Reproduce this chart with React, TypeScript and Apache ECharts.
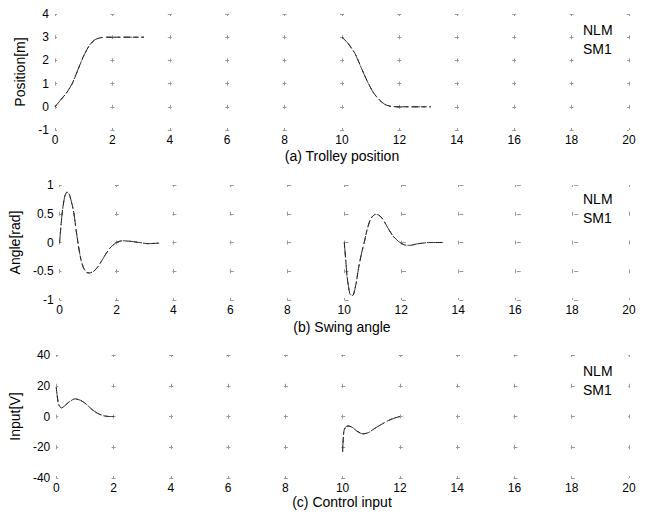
import React, { useEffect, useRef } from "react";
import * as echarts from "echarts";

// (a) Trolley position [m]
const posT1 = [0, 0.2, 0.4, 0.6, 0.8, 1.0, 1.2, 1.4, 1.6, 1.8, 3.1];
const posV1 = [0, 0.3, 0.6, 1.0, 1.6, 2.2, 2.65, 2.9, 2.98, 3.0, 3.0];
const posT2 = [10, 10.2, 10.45, 10.7, 10.9, 11.1, 11.3, 11.5, 11.7, 12, 13.1];
const posV2 = [3.0, 2.75, 2.3, 1.6, 1.05, 0.6, 0.3, 0.1, 0.02, 0, 0];

// (b) Swing angle [rad]
const angT1 = [0, 0.05, 0.1, 0.18, 0.26, 0.34, 0.42, 0.5, 0.58, 0.66, 0.75, 0.85, 0.95, 1.05, 1.2, 1.35, 1.5, 1.65, 1.8, 2.0, 2.2, 2.5, 2.8, 3.1, 3.5];
const angV1 = [0, 0.3, 0.55, 0.8, 0.88, 0.84, 0.7, 0.52, 0.22, -0.05, -0.3, -0.45, -0.52, -0.53, -0.5, -0.42, -0.3, -0.18, -0.08, 0.0, 0.03, 0.02, 0, -0.02, -0.01];
const angT2 = [10, 10.05, 10.1, 10.2, 10.3, 10.4, 10.5, 10.6, 10.7, 10.8, 10.9, 11.0, 11.1, 11.2, 11.35, 11.5, 11.7, 11.9, 12.1, 12.3, 12.6, 13.0, 13.5];
const angV2 = [0, -0.3, -0.6, -0.9, -0.92, -0.75, -0.45, -0.2, 0.0, 0.22, 0.38, 0.46, 0.49, 0.48, 0.41, 0.28, 0.12, 0.02, -0.04, -0.05, -0.02, 0, 0];

// (c) Control input [V]
const inT1 = [0, 0.03, 0.08, 0.18, 0.3, 0.45, 0.65, 0.85, 1.05, 1.25, 1.45, 1.65, 1.85, 2.0];
const inV1 = [19, 14, 8, 5.5, 7, 9.5, 11.5, 10.5, 8, 4.5, 2, 0.5, 0, 0];
const inT2 = [10, 10.02, 10.05, 10.12, 10.22, 10.35, 10.5, 10.7, 10.9, 11.1, 11.35, 11.6, 11.8, 12.0];
const inV2 = [-23, -15, -9, -6.5, -6.2, -7.2, -9.5, -11.3, -10.5, -8, -5.2, -2.6, -1.1, 0];

const seriesNames = ["NLM", "SM1"];
const titles = ["(a) Trolley position", "(b) Swing angle", "(c) Control input"];
const yNames = ["Position[m]", "Angle[rad]", "Input[V]"];
const yMins = [-1, -1, -40];
const yMaxs = [4, 1, 40];
const yIntervals = [1, 0.5, 20];
const xMin = 0;
const xMax = 20;
const xInterval = 2;

function join(t1: number[], v1: number[], t2: number[], v2: number[]) {
  const a = t1.map((t, i) => [t, v1[i]]);
  const b = t2.map((t, i) => [t, v2[i]]);
  return [...a, [5, "-"], ...b];
}

const panelData = [
  join(posT1, posV1, posT2, posV2),
  join(angT1, angV1, angT2, angV2),
  join(inT1, inV1, inT2, inV2),
];

export default function App() {
  const ref = useRef<HTMLDivElement>(null);
  useEffect(() => {
    if (!ref.current) return;
    const chart = echarts.init(ref.current, undefined, { renderer: "svg" });
    const font = "Liberation Sans, Arial, sans-serif";
    const gridLeft = 55;
    const gridRight = 22;
    const gridWidth = 651 - gridLeft - gridRight;
    const grids = [
      { top: 14, height: 116 },
      { top: 185, height: 115 },
      { top: 355, height: 123 },
    ];
    const nameGaps = [16, 29, 23];
    const titleTops = [149, 320, 495];
    const legendTops = [23, 192, 364];
    const cross = 4;

    const xAxes = grids.map((g, i) => {
      const vStep = g.height / ((yMaxs[i] - yMins[i]) / yIntervals[i]);
      return {
        type: "value",
        gridIndex: i,
        min: xMin,
        max: xMax,
        interval: xInterval,
        axisLine: { show: false },
        axisTick: { show: false },
        axisLabel: { color: "#000", fontSize: 12, fontFamily: font, margin: 4 },
        splitLine: {
          show: true,
          lineStyle: { color: "#999", width: 1, type: [cross, vStep - cross], dashOffset: cross / 2 },
        },
      };
    });
    const hStep = gridWidth / ((xMax - xMin) / xInterval);
    const yAxes = grids.map((g, i) => ({
      type: "value",
      gridIndex: i,
      min: yMins[i],
      max: yMaxs[i],
      interval: yIntervals[i],
      name: yNames[i],
      nameLocation: "middle",
      nameGap: nameGaps[i],
      nameTextStyle: { color: "#000", fontSize: 14, fontFamily: font },
      axisLine: { show: false },
      axisTick: { show: false },
      axisLabel: { color: "#000", fontSize: 12, fontFamily: font, margin: 6 },
      splitLine: {
        show: true,
        lineStyle: { color: "#999", width: 1, type: [cross, hStep - cross], dashOffset: cross / 2 },
      },
    }));

    const series: any[] = [];
    panelData.forEach((d, i) => {
      series.push({
        name: seriesNames[0],
        type: "line",
        xAxisIndex: i,
        yAxisIndex: i,
        data: d,
        showSymbol: false,
        smooth: 0.2,
        connectNulls: false,
        lineStyle: { color: "#111", width: 1, type: [6, 3] },
        itemStyle: { color: "#111" },
      });
      series.push({
        name: seriesNames[1],
        type: "line",
        xAxisIndex: i,
        yAxisIndex: i,
        data: d,
        showSymbol: false,
        smooth: 0.2,
        connectNulls: false,
        lineStyle: { color: "#333", width: 1, type: [2, 4, 8, 3] },
        itemStyle: { color: "#333" },
      });
    });

    chart.setOption({
      animation: false,
      backgroundColor: "#fff",
      grid: grids.map((g) => ({ left: gridLeft, right: gridRight, top: g.top, height: g.height })),
      xAxis: xAxes,
      yAxis: yAxes,
      title: titles.map((t, i) => ({
        text: t,
        left: gridLeft + gridWidth / 2,
        top: titleTops[i],
        textAlign: "center",
        padding: 0,
        textStyle: { color: "#000", fontSize: 14, fontWeight: "normal", fontFamily: font },
      })),
      legend: legendTops.map((top) => ({
        data: seriesNames,
        orient: "vertical",
        left: 577,
        top,
        icon: "none",
        itemWidth: 1,
        itemHeight: 12,
        itemGap: 5,
        padding: 0,
        selectedMode: false,
        textStyle: { color: "#000", fontSize: 14, fontFamily: font },
      })),
      series,
    });
    return () => chart.dispose();
  }, []);
  return <div ref={ref} style={{ width: 651, height: 515, position: "absolute", left: 0, top: 0 }} />;
}
